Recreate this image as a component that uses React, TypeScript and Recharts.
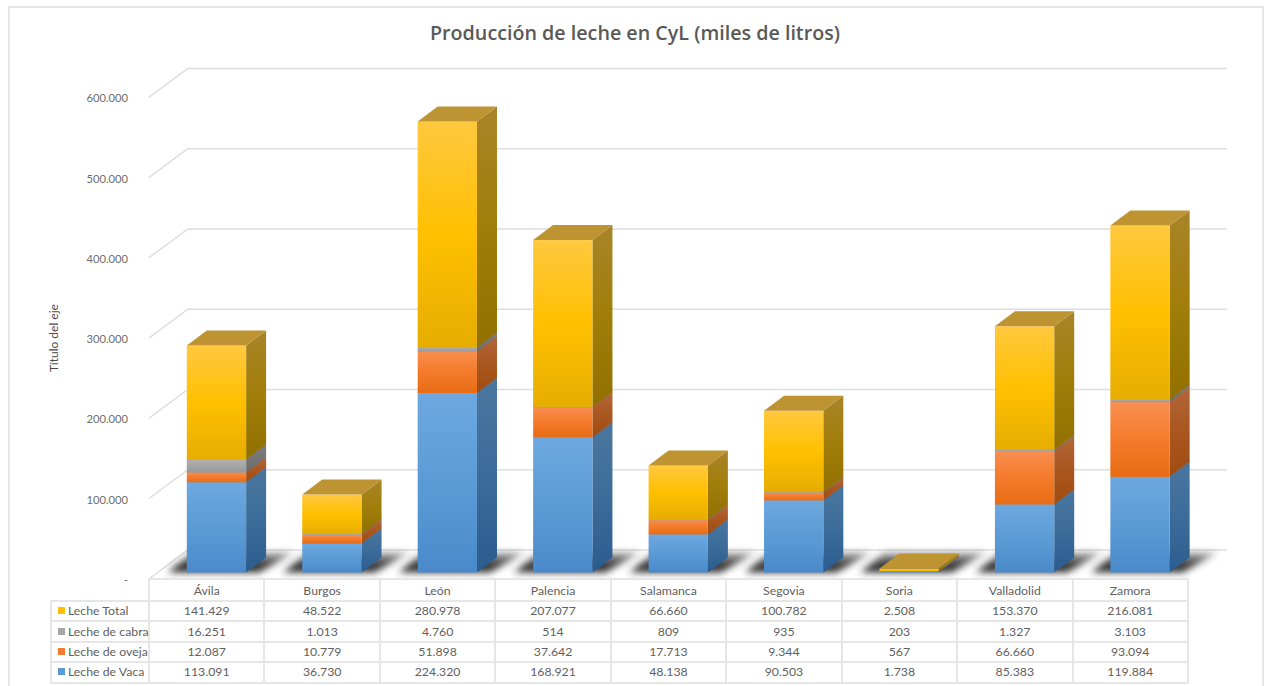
import React from 'react';
import { BarChart, Bar, XAxis, YAxis, CartesianGrid } from 'recharts';

const provincias = ['Ávila', 'Burgos', 'León', 'Palencia', 'Salamanca', 'Segovia', 'Soria', 'Valladolid', 'Zamora'];
const lecheVaca = [113091, 36730, 224320, 168921, 48138, 90503, 1738, 85383, 119884];
const lecheOveja = [12087, 10779, 51898, 37642, 17713, 9344, 567, 66660, 93094];
const lecheCabra = [16251, 1013, 4760, 514, 809, 935, 203, 1327, 3103];
const lecheTotal = [141429, 48522, 280978, 207077, 66660, 100782, 2508, 153370, 216081];
const valueTicks = [0, 100000, 200000, 300000, 400000, 500000, 600000];

const data = provincias.map((name, i) => ({
    name,
    vaca: lecheVaca[i],
    oveja: lecheOveja[i],
    cabra: lecheCabra[i],
    total: lecheTotal[i],
}));

const tableRows = [
    { label: 'Leche Total', color: '#FFC000', values: lecheTotal },
    { label: 'Leche de cabra', color: '#A5A5A5', values: lecheCabra },
    { label: 'Leche de oveja', color: '#ED7D31', values: lecheOveja },
    { label: 'Leche de Vaca', color: '#5B9BD5', values: lecheVaca },
];

const fmt = (v: number) => v.toLocaleString('de-DE');

const FONT = 'Lato, "Open Sans", sans-serif';
const TEXT = '#5f5f5f';
const GRID = '#dedede';
const DEPTH_X = 20;
const DEPTH_Y = 15;
const SEAM = 0.6; // overlap on the segment below, hides the antialiased seam

const Gradient = ({ id, stops }: { id: string; stops: string[] }) => (
    <linearGradient id={id} x1="0" y1="0" x2="0" y2="1">
        {stops.map((c, i) => (
            <stop key={i} offset={i / (stops.length - 1)} stopColor={c} />
        ))}
    </linearGradient>
);

// front face + side face of one stacked segment, with the top lid on the last series
const makeShape = (key: string, opts: { lid?: boolean; shadow?: boolean }) => (props: any) => {
    const { x, y, width, height } = props;
    const r = x + width;
    const b = y + height;
    const seam = opts.shadow ? 0 : SEAM;
    return (
        <g>
            {opts.shadow && (
                <polygon
                    points={`${x - 19},${b} ${r + 13},${b} ${r + 48},${b - 20} ${x + 5},${b - 20}`}
                    fill="url(#floorFade)"
                    filter="url(#floorBlur)"
                />
            )}
            <polygon
                points={`${r},${y} ${r + DEPTH_X},${y - DEPTH_Y} ${r + DEPTH_X},${b - DEPTH_Y + seam} ${r},${b + seam}`}
                fill={`url(#side-${key})`}
            />
            <rect x={x} y={y} width={width} height={height + seam} fill={`url(#front-${key})`} />
            {opts.lid && (
                <polygon
                    points={`${x},${y} ${x + DEPTH_X},${y - DEPTH_Y} ${r + DEPTH_X},${y - DEPTH_Y} ${r},${y}`}
                    fill="#BE9433"
                />
            )}
        </g>
    );
};

// each grid line runs on the side wall and then along the back wall
const gridLine = (props: any) => {
    const { y1, x1, x2, index } = props;
    const frontX = x1 - 10;
    const backX = frontX + 39;
    const endX = x2 + 29;
    return (
        <polyline
            key={`grid-${index}`}
            points={`${frontX},${y1 + 6.5} ${backX},${y1 - 22.5} ${endX},${y1 - 22.5}`}
            fill="none"
            stroke={GRID}
            strokeWidth={1.5}
        />
    );
};

const valueTick = (props: any) => {
    const { y, payload } = props;
    return (
        <text x={128} y={y + 11.5} textAnchor="end" fontSize={11.2} fontFamily={FONT} fill="#6e6e6e">
            {payload.value === 0 ? '-' : fmt(payload.value)}
        </text>
    );
};

const axisTitle = () => (
    <text
        transform="translate(58,338) rotate(-90)"
        textAnchor="middle"
        fontSize={12}
        fontFamily={FONT}
        fill="#4a4a4a"
    >
        Título del eje
    </text>
);

const cell: React.CSSProperties = {
    border: '2px solid #e6e6e6',
    padding: 0,
    textAlign: 'center',
    height: 18.4,
    lineHeight: '18px',
    whiteSpace: 'nowrap',
};

export default function App() {
    return (
        <div style={{ position: 'absolute', left: 0, top: 0, width: 1270, height: 686, background: '#fff', overflow: 'hidden' }}>
            <div
                style={{
                    position: 'absolute',
                    left: 8,
                    top: 6,
                    width: 1256,
                    height: 690,
                    border: '2px solid #e6e6e6',
                    boxSizing: 'border-box',
                }}
            />
            <div
                style={{
                    position: 'absolute',
                    left: 0,
                    width: 1270,
                    top: 18,
                    textAlign: 'center',
                    fontFamily: '"Open Sans", sans-serif',
                    fontWeight: 600,
                    fontSize: 19.7,
                    lineHeight: '30px',
                    color: '#595959',
                }}
            >
                Producción de leche en CyL (miles de litros)
            </div>
            <div style={{ position: 'absolute', left: 0, top: 0 }}>
                <BarChart
                    width={1270}
                    height={686}
                    data={data}
                    margin={{ left: 48.8, top: 90.9, right: 72.2, bottom: 113.5 }}
                >
                    <defs>
                        <filter id="floorBlur" x="-40%" y="-150%" width="180%" height="400%">
                            <feGaussianBlur stdDeviation="3.5" />
                        </filter>
                        <linearGradient id="floorFade" x1="0" y1="0" x2="0" y2="1">
                            <stop offset="0" stopColor="#2e2e2e" stopOpacity={0.35} />
                            <stop offset="0.6" stopColor="#2e2e2e" stopOpacity={0.95} />
                            <stop offset="1" stopColor="#2e2e2e" stopOpacity={1} />
                        </linearGradient>
                        <Gradient id="front-vaca" stops={['#6EA8E0', '#5B9BD5', '#4A8ACB']} />
                        <Gradient id="side-vaca" stops={['#4A779F', '#3C6C9A', '#2A5C8E']} />
                        <Gradient id="front-oveja" stops={['#F98F50', '#F47B2C', '#E86C14']} />
                        <Gradient id="side-oveja" stops={['#B4663A', '#A9571F', '#9E4C10']} />
                        <Gradient id="front-cabra" stops={['#B0B0B0', '#A5A5A5', '#979797']} />
                        <Gradient id="side-cabra" stops={['#7C7C7C', '#757575', '#696969']} />
                        <Gradient id="front-total" stops={['#FFC83F', '#FFC000', '#E6AD00']} />
                        <Gradient id="side-total" stops={['#A98428', '#A17E0A', '#927000']} />
                    </defs>
                    <CartesianGrid vertical={false} horizontal={gridLine} />
                    <XAxis dataKey="name" hide />
                    <YAxis
                        width={110}
                        domain={[0, 600000]}
                        ticks={valueTicks}
                        axisLine={false}
                        tickLine={false}
                        tick={valueTick}
                        label={{ content: axisTitle }}
                    />
                    <Bar dataKey="vaca" stackId="a" barSize={59.3} isAnimationActive={false} shape={makeShape('vaca', { shadow: true })} />
                    <Bar dataKey="oveja" stackId="a" barSize={59.3} isAnimationActive={false} shape={makeShape('oveja', {})} />
                    <Bar dataKey="cabra" stackId="a" barSize={59.3} isAnimationActive={false} shape={makeShape('cabra', {})} />
                    <Bar dataKey="total" stackId="a" barSize={59.3} isAnimationActive={false} shape={makeShape('total', { lid: true })} />
                </BarChart>
            </div>
            <table
                style={{
                    position: 'absolute',
                    left: 50,
                    top: 578,
                    width: 1137,
                    borderCollapse: 'collapse',
                    tableLayout: 'fixed',
                    fontFamily: FONT,
                    fontSize: 12.3,
                    color: TEXT,
                }}
            >
                <colgroup>
                    <col style={{ width: 98 }} />
                    {provincias.map((p) => (
                        <col key={p} style={{ width: 115.44 }} />
                    ))}
                </colgroup>
                <tbody>
                    <tr>
                        <td style={{ ...cell, border: 'none', borderBottom: cell.border }} />
                        {provincias.map((p) => (
                            <td key={p} style={{ ...cell, paddingTop: 2, height: 15.6 }}>{p}</td>
                        ))}
                    </tr>
                    {tableRows.map((row) => (
                        <tr key={row.label}>
                            <td style={{ ...cell, textAlign: 'left', paddingLeft: 6 }}>
                                <span style={{ display: 'inline-block', width: 7, height: 7, background: row.color, marginRight: 3, verticalAlign: 1 }} />
                                {row.label}
                            </td>
                            {row.values.map((v, i) => (
                                <td key={i} style={cell}>{fmt(v)}</td>
                            ))}
                        </tr>
                    ))}
                </tbody>
            </table>
        </div>
    );
}
